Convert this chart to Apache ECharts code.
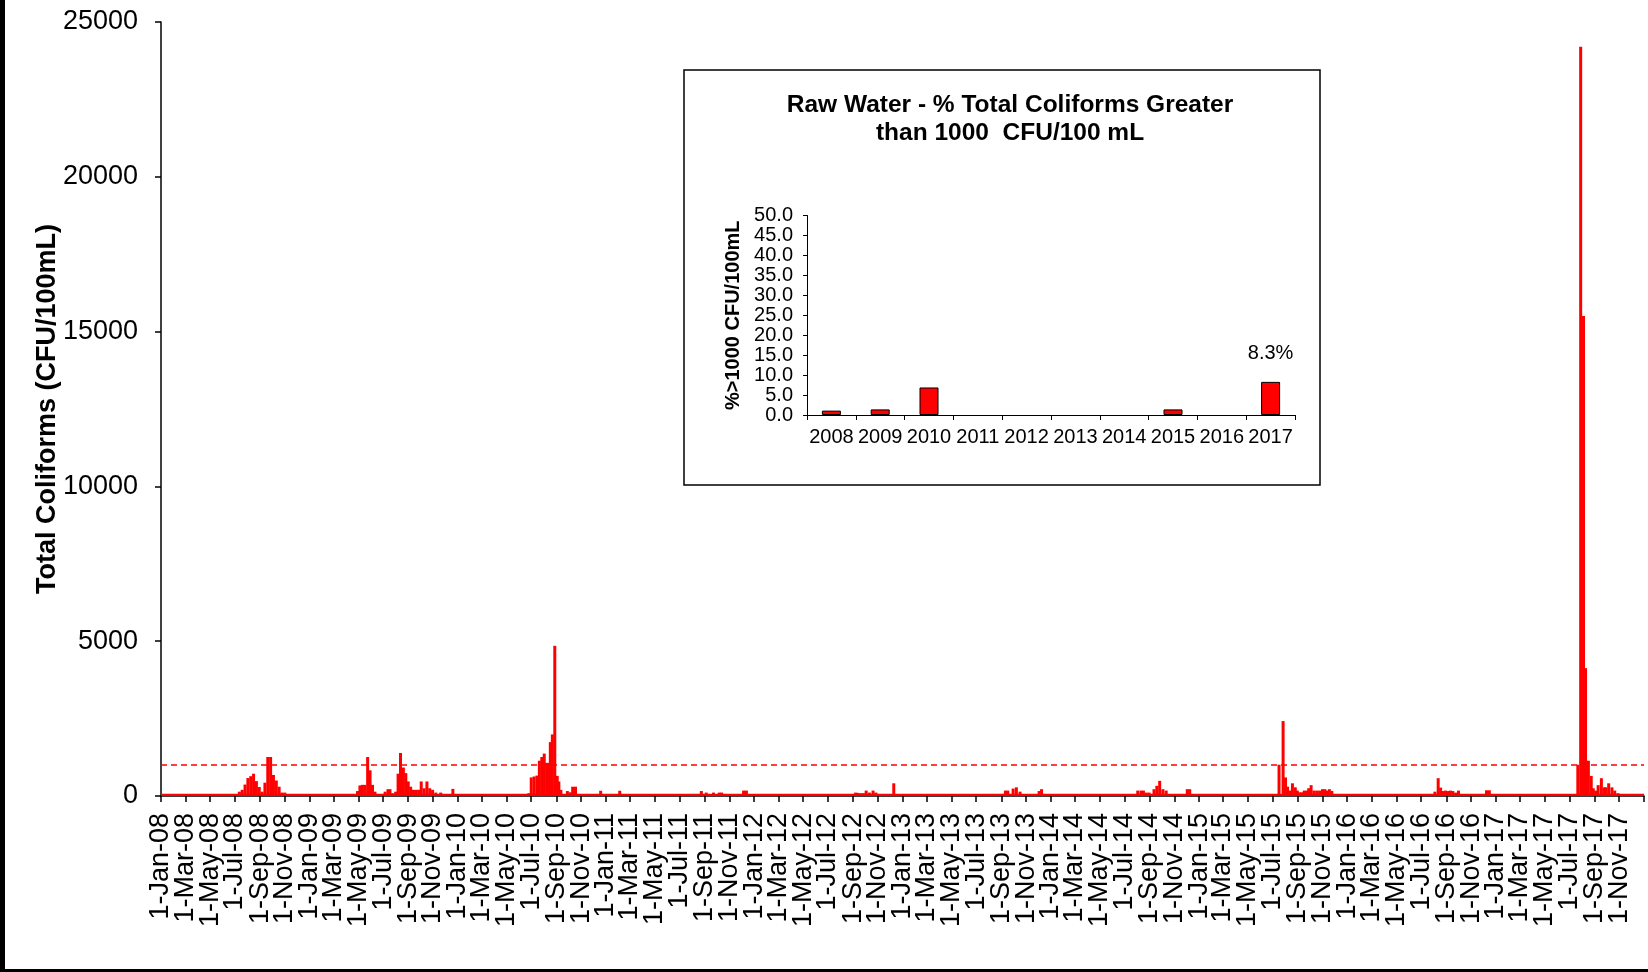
<!DOCTYPE html>
<html>
<head>
<meta charset="utf-8">
<script src="https://cdn.jsdelivr.net/npm/echarts@6/dist/echarts.min.js"></script>
<style>
html,body{margin:0;padding:0;background:#fff;}
#chart{width:1648px;height:972px;}
</style>
</head>
<body>
<div id="chart"></div>
<script>
// ---- Raw-water total coliform samples (CFU/100mL) ----
const sampleDates = [
  // 2008
  '2008-07-12','2008-07-19','2008-07-26','2008-08-02','2008-08-09','2008-08-16','2008-08-23','2008-08-30','2008-09-06',
  '2008-09-13','2008-09-20','2008-09-27','2008-10-04','2008-10-11','2008-10-18','2008-10-25','2008-11-01',
  // 2009
  '2009-04-29','2009-05-05','2009-05-11','2009-05-17','2009-05-24','2009-05-30','2009-06-05','2009-06-11',
  '2009-07-06','2009-07-13','2009-07-18','2009-07-24','2009-08-01','2009-08-07','2009-08-13','2009-08-20','2009-08-26',
  '2009-09-01','2009-09-07','2009-09-14','2009-09-21','2009-09-27','2009-10-03','2009-10-10','2009-10-17','2009-10-24',
  '2009-10-31','2009-11-08','2009-11-20','2009-12-20',
  // 2010
  '2010-06-25','2010-07-01','2010-07-08','2010-07-15','2010-07-21','2010-07-27','2010-08-02','2010-08-08','2010-08-12',
  '2010-08-17','2010-08-22','2010-08-28','2010-09-03','2010-09-07','2010-09-12','2010-09-28','2010-10-05','2010-10-11',
  '2010-10-18','2010-12-19',
  // 2011
  '2011-02-04','2011-08-24','2011-09-05','2011-09-23','2011-10-07','2011-10-13','2011-12-06','2011-12-13',
  // 2012
  '2012-09-07','2012-09-13','2012-09-20','2012-09-26','2012-10-03','2012-10-11','2012-10-20','2012-10-27','2012-12-10',
  // 2013
  '2013-09-11','2013-09-17','2013-09-30','2013-10-08','2013-10-17','2013-12-03','2013-12-09',
  // 2014
  '2014-08-03','2014-08-11','2014-08-17','2014-08-24','2014-08-31','2014-09-12','2014-09-19','2014-09-26','2014-10-04',
  '2014-10-12','2014-12-03','2014-12-09',
  // 2015
  '2015-07-17','2015-07-27','2015-08-02','2015-08-07','2015-08-12','2015-08-19','2015-08-26','2015-08-31','2015-09-05',
  '2015-09-11','2015-09-17','2015-09-23','2015-09-28','2015-10-04','2015-10-11','2015-10-18','2015-10-25','2015-11-01',
  '2015-11-07','2015-11-13','2015-11-18','2015-11-24',
  // 2016
  '2016-08-04','2016-08-12','2016-08-18','2016-08-24','2016-08-30','2016-09-05','2016-09-11','2016-09-17','2016-09-24',
  '2016-10-01','2016-12-09','2016-12-16',
  // 2017
  '2017-07-22','2017-07-29','2017-08-05','2017-08-10','2017-08-17','2017-08-24','2017-08-29','2017-09-04','2017-09-10',
  '2017-09-18','2017-09-25','2017-09-29','2017-10-06','2017-10-14','2017-10-21','2017-10-29'
];
const totalColiforms = [
  // 2008
  140,200,370,580,640,720,480,290,140,
  430,1260,1260,680,500,300,110,110,
  // 2009
  160,340,360,360,1260,830,360,140,
  140,220,220,90,140,720,1390,920,740,
  470,300,200,200,200,470,250,470,250,
  200,110,110,230,
  // 2010
  90,600,630,660,1140,1260,1370,1070,1070,
  1740,1990,4850,650,470,200,160,120,300,
  300,170,
  // 2011
  170,160,110,110,110,110,175,175,
  // 2012
  110,100,90,90,175,110,175,110,410,
  // 2013
  175,175,240,280,140,160,220,
  // 2014
  175,175,175,110,110,220,330,490,220,
  175,220,220,
  // 2015
  1010,2420,600,300,175,410,280,175,120,
  120,175,175,250,350,175,175,175,220,
  220,175,220,165,
  // 2016
  140,575,270,160,175,160,175,160,110,
  175,185,185,
  // 2017
  1010,24200,15500,4130,1140,650,250,175,350,
  575,280,280,410,280,175,90
];
// low background counts present all year round
const backgroundDates = ['2008-01-01','2018-01-01'];
const backgroundValues = [75, 75];
const thresholdValue = 1000;

// ---- Inset: % of samples > 1000 CFU/100 mL per year ----
const insetYears = ['2008','2009','2010','2011','2012','2013','2014','2015','2016','2017'];
const insetPercent = [1.1, 1.4, 6.9, 0, 0, 0, 0, 1.4, 0, 8.3];
const insetLabelYear = '2017';

// ---- Axis ticks: 1st of every second month, Jan-08 .. Nov-17 (plus closing tick Jan-18) ----
const monthNames = ['Jan','Feb','Mar','Apr','May','Jun','Jul','Aug','Sep','Oct','Nov','Dec'];
const tickYears = [2008,2009,2010,2011,2012,2013,2014,2015,2016,2017];
const tickMonths = [0,2,4,6,8,10];
const axisStart = '2008-01-01';
const axisEnd = '2018-01-01';

const DAY = 86400000;
function toUTC(s) { const p = s.split('-').map(Number); return Date.UTC(p[0], p[1] - 1, p[2]); }
const T0 = toUTC(axisStart);
function dayIndex(s) { return Math.round((toUTC(s) - T0) / DAY); }
function dayLabel(v) {
  const d = new Date(T0 + Math.round(v) * DAY);
  return d.getUTCDate() + '-' + monthNames[d.getUTCMonth()] + '-' + String(d.getUTCFullYear()).slice(2);
}

const labelDays = [];
tickYears.forEach(y => tickMonths.forEach(m => labelDays.push(Math.round((Date.UTC(y, m, 1) - T0) / DAY))));
const tickDays = labelDays.concat([dayIndex(axisEnd)]);
// labels are split over two overlaid axes (alternating) so the library's
// min/max-label overlap rule does not drop any of them
const labelDaysA = labelDays.filter((d, i) => i % 2 === 0);
const labelDaysB = labelDays.filter((d, i) => i % 2 === 1);

const FONT = '"Liberation Sans", Arial, Helvetica, sans-serif';
const RED = '#FF0000';

const mainData = sampleDates.map((d, i) => [dayIndex(d), totalColiforms[i]]);
const bgData = backgroundDates.map((d, i) => [dayIndex(d), backgroundValues[i]]);
const insetData = insetPercent.map((v, i) => {
  const item = { value: v };
  if (v === 0) item.itemStyle = { borderWidth: 0 };
  if (insetYears[i] === insetLabelYear) {
    item.label = { show: true, position: 'top', distance: 18, formatter: '{c}%', fontSize: 20, color: '#000', fontFamily: FONT };
  }
  return item;
});

const xLabelStyle = {
  rotate: 90, margin: 17, fontSize: 27, color: '#000', fontFamily: FONT,
  showMinLabel: true, showMaxLabel: true, hideOverlap: false, formatter: dayLabel
};

const chart = echarts.init(document.getElementById('chart'), null, { renderer: 'canvas' });

chart.setOption({
  animation: false,
  backgroundColor: '#fff',
  textStyle: { fontFamily: FONT, color: '#000' },
  grid: [
    { left: 161, top: 22, width: 1483, height: 774 },
    { left: 807, top: 215.5, width: 488, height: 199.5 }
  ],
  xAxis: [
    {
      type: 'value', gridIndex: 0, position: 'bottom',
      min: dayIndex(axisStart), max: dayIndex(axisEnd),
      axisLine: { show: true, onZero: false, lineStyle: { color: '#000', width: 1.5 } },
      axisTick: { show: true, customValues: tickDays, length: 6, lineStyle: { color: '#000', width: 1.5 } },
      axisLabel: Object.assign({ customValues: labelDaysA }, xLabelStyle),
      splitLine: { show: false }
    },
    {
      type: 'value', gridIndex: 0, position: 'bottom', offset: 0,
      min: dayIndex(axisStart), max: dayIndex(axisEnd),
      axisLine: { show: false, onZero: false },
      axisTick: { show: false },
      axisLabel: Object.assign({ customValues: labelDaysB }, xLabelStyle),
      splitLine: { show: false }
    },
    {
      type: 'category', gridIndex: 1, data: insetYears,
      axisLine: { show: true, lineStyle: { color: '#000', width: 1 } },
      axisTick: { show: true, length: 5, lineStyle: { color: '#000', width: 1 } },
      axisLabel: { fontSize: 20, color: '#000', margin: 12, fontFamily: FONT, interval: 0 },
      splitLine: { show: false }
    }
  ],
  yAxis: [
    {
      type: 'value', gridIndex: 0, min: 0, max: 25000, interval: 5000,
      name: 'Total Coliforms (CFU/100mL)', nameLocation: 'middle', nameRotate: 90, nameGap: 100,
      nameMoveOverlap: false,
      nameTextStyle: { fontSize: 27, fontWeight: 'bold', color: '#000', fontFamily: FONT },
      axisLine: { show: true, lineStyle: { color: '#000', width: 1.5 } },
      axisTick: { show: true, length: 6, lineStyle: { color: '#000', width: 1.5 } },
      axisLabel: { fontSize: 27, color: '#000', margin: 23, fontFamily: FONT, formatter: v => String(v) },
      splitLine: { show: false }
    },
    {
      type: 'value', gridIndex: 1, min: 0, max: 50, interval: 5,
      name: '%>1000 CFU/100mL', nameLocation: 'middle', nameRotate: 90, nameGap: 64,
      nameTextStyle: { fontSize: 20, fontWeight: 'bold', color: '#000', fontFamily: FONT },
      axisLine: { show: true, lineStyle: { color: '#000', width: 1 } },
      axisTick: { show: true, length: 4, lineStyle: { color: '#000', width: 1 } },
      axisLabel: { fontSize: 20, color: '#000', margin: 14, fontFamily: FONT, formatter: v => v.toFixed(1) },
      splitLine: { show: false }
    }
  ],
  series: [
    {
      name: 'background', type: 'line', xAxisIndex: 0, yAxisIndex: 0,
      data: bgData, symbol: 'none', silent: true, z: 1,
      lineStyle: { width: 0 }, areaStyle: { color: RED, opacity: 1 }
    },
    {
      name: 'Total Coliforms', type: 'bar', xAxisIndex: 0, yAxisIndex: 0,
      data: mainData, barWidth: 3, z: 2,
      itemStyle: { color: RED },
      markLine: {
        silent: true, symbol: ['none', 'none'], label: { show: false },
        lineStyle: { color: RED, type: [6, 4], width: 1.5 },
        data: [{ yAxis: thresholdValue }]
      }
    },
    {
      name: '% > 1000', type: 'bar', xAxisIndex: 2, yAxisIndex: 1,
      data: insetData, barWidth: 19,
      itemStyle: { color: RED, borderColor: '#000', borderWidth: 1 }
    }
  ],
  graphic: [
    { type: 'rect', shape: { x: 684, y: 70, width: 636, height: 415 },
      style: { fill: 'none', stroke: '#000', lineWidth: 1.5 }, z: -1, silent: true },
    { type: 'text', x: 1010, y: 91,
      style: { text: 'Raw Water - % Total Coliforms Greater\nthan 1000  CFU/100 mL',
               align: 'center', verticalAlign: 'top', lineHeight: 28,
               fontSize: 24.5, fontWeight: 'bold', fontFamily: FONT, fill: '#000' } },
    { type: 'rect', shape: { x: 0, y: 0, width: 5, height: 972 }, style: { fill: '#000' }, silent: true },
    { type: 'rect', shape: { x: 0, y: 969, width: 1648, height: 3 }, style: { fill: '#000' }, silent: true }
  ]
});
</script>
</body>
</html>
